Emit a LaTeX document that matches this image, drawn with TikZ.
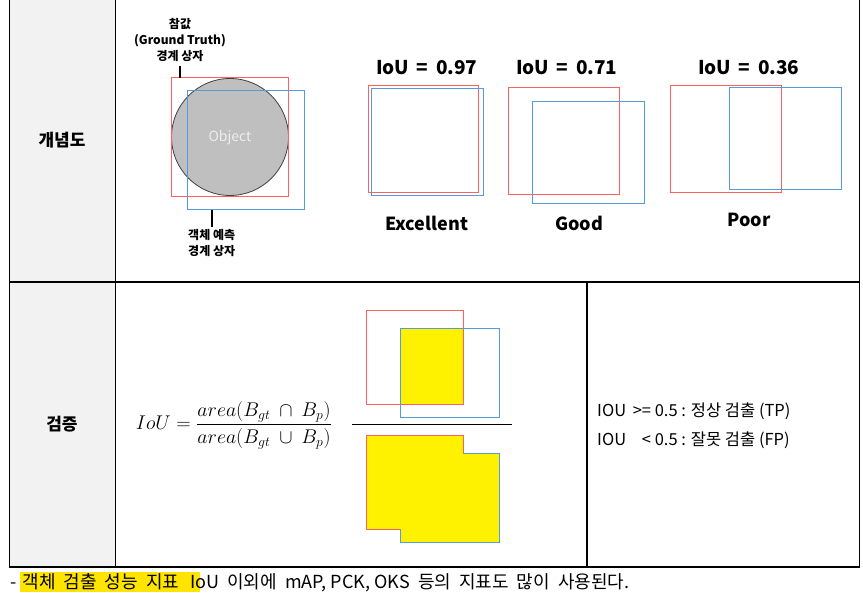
\documentclass[tikz,border=0pt]{standalone}
\usepackage{amsmath}
\usepackage{graphicx}
\usepackage{fontspec}
\setmainfont{Noto Sans CJK KR}
\usetikzlibrary{positioning}

\definecolor{gtred}{RGB}{255,95,95}
\definecolor{predblue}{RGB}{85,155,215}
\definecolor{cellgray}{RGB}{242,242,242}
\definecolor{objgray}{RGB}{191,191,191}
\definecolor{marker}{RGB}{255,228,0}

\begin{document}
\begin{tikzpicture}[x=1pt, y=-1pt,
    gtbox/.style={draw=gtred, line width=1pt},
    predbox/.style={draw=predblue, line width=1pt},
    rule/.style={draw=black, line width=1.4pt},
    headcell/.style={font=\bfseries\fontsize{17}{20}\selectfont},
    tag/.style={font=\bfseries\fontsize{12}{16}\selectfont, align=center, inner sep=0pt},
    score/.style={font=\bfseries\fontsize{19}{22}\selectfont},
    verdict/.style={font=\bfseries\fontsize{18}{21}\selectfont},
    rule-text/.style={font=\fontsize{16.5}{19}\selectfont, anchor=base west, inner sep=0pt},
    tick/.style={draw=black, line width=1.6pt}
]
\useasboundingbox (0,0) rectangle (863,601);

% table frame
\fill[cellgray] (9.5,0) rectangle (115.5,567);
\draw[rule] (9.5,0) -- (9.5,567) -- (859.5,567) -- (859.5,0);
\draw[rule] (115.5,0) -- (115.5,567);
\draw[rule] (9.5,282) -- (859.5,282);
\draw[rule] (587,282) -- (587,567);

\node[headcell] (concept) at (62,140) {개념도};
\node[headcell] (verify) at (62,424) {검증};

% object with ground truth and predicted boxes
\draw[fill=objgray, draw=black!75, line width=0.8pt] (230,137) circle (58.5pt);
\node[font=\fontsize{14}{16}\selectfont, text=white!93!black] (obj) at (230,138) {Object};
\draw[gtbox] (171,77.7) rectangle (288.7,196.7);
\draw[predbox] (187,91) rectangle (304,210);

\node[tag] (gtlabel) at (180,40.5) {참값\\(Ground Truth)\\경계 상자};
\coordinate (gttop) at (180,77.7);
\draw[tick] ([yshift=-4pt]gtlabel.south) -- (gttop);

\node[tag] (predlabel) at (211.7,243.5) {객체 예측\\경계 상자};
\coordinate (predbot) at (211.7,210);
\draw[tick] ([yshift=3pt]predlabel.north) -- (predbot);

% three overlap examples
\foreach \nm/\cx/\val/\lx/\ly/\word in {exc/426.7/0.97/426.7/223/Excellent, good/566.7/0.71/579.3/223/Good, poor/748.7/0.36/749/220/Poor} {
    \node[score] (iou-\nm) at (\cx,68) {IoU\hspace{0.4em}=\hspace{0.4em}\val};
    \node[verdict] (word-\nm) at (\lx,\ly) {\word};
}
\draw[gtbox] (368.3,85.3) rectangle (478.7,192.7);
\draw[predbox] (371.3,88.7) rectangle (483.3,196);
\draw[gtbox] (508.7,87.7) rectangle (619.3,195);
\draw[predbox] (532.3,101.7) rectangle (644.7,203.3);
\draw[gtbox] (670.7,85.3) rectangle (781.3,192.7);
\draw[predbox] (729.3,87.7) rectangle (841.3,189.7);

% formula
\node (formula) at (234,425) {\fontsize{17.28}{20}\selectfont\scalebox{1.15}{$\displaystyle IoU = \frac{area(B_{gt}\ \cap\ B_p)}{area(B_{gt}\ \cup\ B_p)}$}};

% intersection over union
\fill[yellow] (400.3,328.7) rectangle (463.3,404.3);
\draw[gtbox] (366,310.7) rectangle (463.3,404.3);
\draw[predbox] (400.3,328.7) rectangle (499.7,417.7);
\draw[line width=1.5pt] (352.3,424.3) -- (512,424.3);
\fill[yellow] (366,435.3) -- (463.3,435.3) -- (463.3,453.3) -- (499.7,453.3) -- (499.7,542.3) -- (400.3,542.3) -- (400.3,529.3) -- (366,529.3) -- cycle;
\draw[gtbox] (463.3,453.3) -- (463.3,435.3) -- (366,435.3) -- (366,529.3) -- (400.3,529.3);
\draw[predbox] (463.3,453.3) -- (499.7,453.3) -- (499.7,542.3) -- (400.3,542.3) -- (400.3,529.3);

% decision rule
\node[rule-text] (tp) at (597,417) {IOU \makebox[2.9em][r]{>= 0.5} : 정상 검출 (TP)};
\node[rule-text] (fp) at (597,446) {IOU \makebox[2.9em][r]{< 0.5} : 잘못 검출 (FP)};

% note under the table
\node[font=\fontsize{18}{21}\selectfont, anchor=base west, inner sep=0pt] (note) at (10,589)
    {- {\setlength{\fboxsep}{2pt}\colorbox{marker}{객체\ \ 검출\ \ 성능\ \ 지표\hspace{19pt}}}\hspace{-10pt}IoU\ \ 이외에\ \ mAP, PCK, OKS\ \ 등의\ \ 지표도\ \ 많이\ \ 사용된다.};

\end{tikzpicture}
\end{document}
